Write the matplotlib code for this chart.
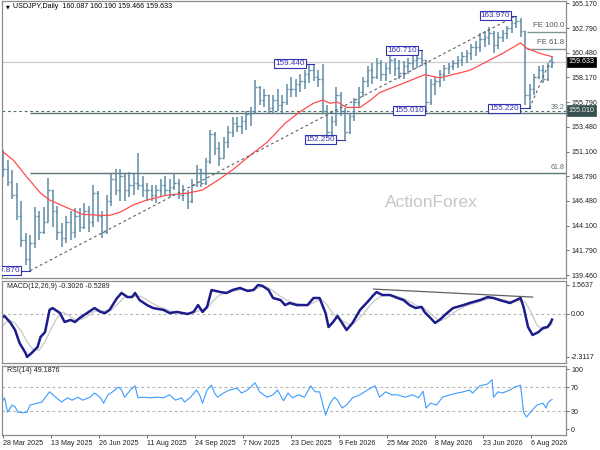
import matplotlib
matplotlib.use('Agg')
import matplotlib.pyplot as plt
import matplotlib.transforms as mtransforms
import numpy as np

plt.rcParams['font.family'] = ['Liberation Sans', 'DejaVu Sans']

# ---------------- data (3-day OHLC bars) ----------------
first_open = 150.8
closes = [
    149.5, 148.3, 147.0, 145.0, 142.8, 141.0, 142.5, 145.0, 143.5, 144.5,
    147.5, 145.5, 143.5, 143.0, 144.5, 143.5, 145.0, 144.0, 145.5, 144.5,
    147.2, 145.0, 143.5, 146.5, 148.5, 147.5, 148.8, 147.5, 148.0, 148.2,
    148.0, 147.5, 147.5, 147.0, 147.5, 148.0, 147.5, 147.8, 148.2, 147.0,
    147.2, 146.5, 148.0, 149.5, 148.2, 150.2, 152.8, 151.5, 150.5, 152.0,
    153.0, 153.8, 153.5, 154.0, 154.7, 155.0, 157.2, 156.0, 156.5, 155.2,
    156.0, 155.5, 155.8, 157.0, 157.0, 157.5, 157.8, 158.5, 158.8, 158.2,
    158.0, 155.0, 153.0, 154.0, 156.5, 155.0, 153.0, 154.5, 155.8, 156.8,
    157.8, 158.8, 158.2, 159.5, 158.5, 159.0, 159.8, 159.0, 158.6, 159.2,
    159.5, 159.8, 160.0, 159.8, 155.8, 157.5, 157.8, 158.5, 159.0, 159.2,
    159.5, 159.8, 160.2, 160.4, 161.0, 161.0, 161.8, 162.0, 162.3, 161.2,
    162.0, 162.3, 162.8, 163.3, 163.5, 162.5, 156.5, 157.0, 158.2, 158.8,
    158.0, 159.2, 159.633]
highs = [
    151.3, 150.3, 149.4, 148.2, 146.5, 143.4, 143.2, 145.9, 145.5, 145.9,
    148.6, 147.5, 146.0, 144.4, 145.0, 145.5, 145.8, 145.8, 146.3, 146.0,
    148.0, 147.4, 145.5, 147.0, 149.0, 149.5, 149.5, 149.0, 149.2, 149.0,
    151.0, 148.8, 148.2, 148.0, 148.0, 148.5, 148.8, 148.5, 149.1, 148.5,
    148.0, 147.5, 148.5, 149.9, 149.5, 150.5, 153.2, 153.0, 152.0, 152.5,
    153.5, 154.4, 154.4, 154.5, 155.0, 155.3, 157.9, 157.3, 157.0, 156.5,
    156.5, 157.0, 156.5, 157.5, 158.2, 158.0, 158.5, 158.8, 159.3, 159.44,
    158.8, 159.4, 155.5, 154.5, 157.2, 156.8, 155.2, 154.8, 156.2, 157.2,
    158.2, 159.2, 159.5, 160.0, 159.8, 159.5, 160.3, 160.0, 159.8, 159.7,
    160.0, 160.2, 160.4, 160.71, 159.8, 158.0, 158.2, 158.8, 159.3, 159.5,
    159.8, 160.2, 160.5, 160.7, 161.3, 161.6, 162.3, 162.5, 162.9, 162.5,
    162.4, 162.6, 163.0, 163.6, 163.97, 163.8, 162.5, 157.5, 158.5, 159.2,
    159.3, 159.5, 160.19]
lows = [
    148.7, 147.9, 146.6, 144.7, 142.1, 140.4, 139.87, 142.0, 142.8, 143.3,
    144.5, 144.0, 142.8, 142.1, 142.5, 142.8, 143.0, 143.5, 143.8, 143.5,
    144.0, 144.5, 143.0, 143.3, 146.0, 147.0, 146.5, 146.5, 146.8, 147.0,
    147.5, 146.8, 146.5, 146.5, 146.3, 146.8, 147.0, 146.8, 147.5, 146.6,
    146.5, 145.7, 146.3, 147.8, 147.8, 148.0, 150.0, 150.8, 149.8, 150.5,
    151.5, 152.5, 153.0, 152.8, 153.2, 153.5, 154.8, 155.5, 155.3, 154.8,
    154.8, 155.0, 154.8, 155.5, 156.3, 156.3, 156.8, 157.0, 157.6, 157.8,
    157.2, 154.8, 152.5, 152.4, 153.5, 154.5, 152.25, 152.8, 154.0, 155.3,
    156.3, 157.2, 157.5, 158.0, 157.8, 157.8, 158.5, 158.3, 158.0, 158.0,
    158.5, 158.8, 159.0, 159.2, 155.01, 155.5, 156.5, 157.2, 157.8, 158.5,
    158.8, 159.0, 159.2, 159.5, 159.8, 160.2, 160.5, 161.0, 161.2, 160.4,
    160.8, 161.5, 161.8, 162.3, 162.8, 162.0, 155.5, 155.22, 156.5, 158.0,
    157.6, 157.8, 159.0]
BAR_DAYS = 3  # each bar spans three trading days

# moving average (red line), (trading-day, price)
ma_day = [0, 7, 16, 25, 31, 43, 53, 65, 71, 78, 87, 96, 109, 123, 133, 143, 153, 165,
          176, 188, 198, 207, 213, 218, 223, 229, 238, 245, 251, 260, 269, 281, 291,
          311, 333, 345, 349, 358, 366]
ma_val = [151.1, 150.3, 148.7, 147.2, 146.55, 145.8, 145.2, 145.1, 145.1, 145.4, 146.1,
          146.55, 147.0, 147.2, 147.5, 148.4, 149.4, 150.8, 152.0, 153.8, 154.9, 155.7,
          156.0, 155.7, 155.8, 155.3, 155.3, 156.0, 156.7, 157.2, 157.7, 158.4, 158.1,
          158.8, 160.4, 161.4, 160.9, 160.4, 160.1]

# MACD main line
macd_day = [0, 1, 5, 8, 11, 15, 16, 19, 23, 25, 28, 31, 33, 38, 41, 45, 48, 51, 56, 61,
            65, 68, 71, 76, 79, 83, 86, 88, 91, 96, 100, 107, 111, 116, 123, 127, 130, 133,
            136, 139, 145, 149, 153, 158, 163, 167, 170, 173, 177, 180, 185, 188, 191, 196,
            203, 207, 211, 215, 217, 220, 223, 226, 229, 233, 238, 243, 247, 249, 253, 258,
            263, 267, 271, 275, 279, 281, 285, 288, 291, 296, 300, 307, 311, 318, 323, 327,
            331, 338, 345, 347, 350, 353, 357, 360, 363, 365, 366]
macd_val = [-0.16, -0.11, -0.48, -0.86, -1.56, -2.10, -2.31, -2.10, -1.78, -1.24,
            -0.97, 0.22, 0.32, 0.05, -0.43, -0.32, -0.43, -0.22, 0.05, 0.32,
            0.11, 0.05, 0.22, 0.86, 1.13, 0.91, 0.91, 1.13, 0.75, 0.48,
            0.32, 0.22, 0.05, 0.11, 0.0, 0.11, 0.48, 0.11, 0.38, 1.29,
            1.18, 1.13, 1.29, 1.40, 1.24, 1.29, 1.56, 1.51, 1.29, 0.86,
            0.75, 0.48, 0.59, 0.48, 0.48, 0.86, 0.86, 0.05, -0.70, -0.43,
            -0.11, -0.48, -0.86, -0.48, 0.22, 0.65, 1.02, 1.18, 1.02, 1.02,
            0.86, 0.75, 0.48, 0.32, 0.38, 0.11, -0.22, -0.48, -0.32, 0.05,
            0.32, 0.48, 0.59, 0.75, 0.91, 0.86, 0.75, 0.59, 0.86, 0.38,
            -0.70, -1.13, -0.97, -0.75, -0.70, -0.48, -0.30]
# MACD signal line
sig_day = list(range(0, 361, 4)) + [363, 366]
sig_val = [-0.6, -0.3, -0.5, -0.9, -1.5, -1.9, -1.95, -1.5, -0.8, -0.2,
           0.1, -0.1, -0.3, -0.3, -0.15, 0.1, 0.2, 0.15, 0.2, 0.5,
           0.85, 0.95, 0.95, 0.95, 0.75, 0.55, 0.4, 0.28, 0.15, 0.1,
           0.05, 0.03, 0.1, 0.25, 0.3, 0.7, 1.0, 1.12, 1.18, 1.28,
           1.32, 1.3, 1.35, 1.45, 1.45, 1.25, 1.0, 0.8, 0.65, 0.55,
           0.5, 0.5, 0.65, 0.78, 0.5, 0.0, -0.25, -0.45, -0.6, -0.35,
           0.0, 0.4, 0.75, 0.95, 1.05, 1.0, 0.92, 0.8, 0.62, 0.45,
           0.35, 0.1, -0.2, -0.35, -0.2, 0.05, 0.25, 0.42, 0.52, 0.62,
           0.72, 0.82, 0.85, 0.8, 0.7, 0.68, 0.72, 0.65, 0.1, -0.6,
           -0.85, -0.75, -0.53]

# RSI(14)
rsi_day = [0, 1, 3, 6, 8, 10, 13, 16, 18, 23, 26, 28, 31, 35, 39, 43, 46, 50, 53, 58,
           61, 65, 67, 70, 73, 77, 79, 81, 85, 88, 90, 93, 98, 103, 107, 111, 115, 119,
           121, 125, 129, 131, 133, 136, 139, 141, 143, 147, 151, 156, 159, 163, 168,
           171, 176, 180, 183, 187, 190, 193, 197, 201, 205, 208, 211, 213, 215, 218,
           221, 223, 226, 229, 233, 238, 241, 245, 248, 251, 255, 259, 263, 268, 273,
           277, 280, 282, 285, 289, 293, 298, 303, 307, 311, 313, 318, 323, 326, 327,
           330, 333, 338, 341, 345, 347, 349, 353, 356, 360, 362, 363, 365, 366]
rsi_val = [48, 52, 28, 40, 37, 28, 27, 28, 40, 43, 45, 52, 62, 53, 45, 52, 48, 53, 48, 53,
           60, 52, 43, 57, 62, 70, 65, 53, 65, 72, 52, 53, 52, 53, 52, 57, 48, 52, 45, 53,
           65, 57, 43, 65, 73, 60, 53, 60, 65, 68, 60, 65, 77, 62, 53, 57, 65, 47, 60, 52,
           57, 53, 72, 62, 62, 43, 23, 43, 53, 48, 35, 40, 52, 57, 62, 68, 72, 53, 62, 57,
           57, 53, 57, 52, 63, 35, 43, 40, 53, 57, 60, 62, 65, 60, 72, 75, 82, 53, 62, 60,
           65, 70, 73, 28, 20, 32, 40, 43, 35, 43, 48, 49]

price_ticks = [165.170, 162.790, 160.480, 158.170, 155.790, 153.480, 151.100,
               148.790, 146.480, 144.100, 141.790, 139.460]
macd_ticks = [1.5637, 0.0, -2.3117]
macd_tick_labels = ['1.5637', '0.00', '-2.3117']
rsi_ticks = [100, 70, 30, 0]
date_days = [0, 32, 64, 96, 128, 160, 192, 224, 256, 288, 320, 352]
date_labels = ['28 Mar 2025', '13 May 2025', '26 Jun 2025', '11 Aug 2025', '24 Sep 2025',
               '7 Nov 2025', '23 Dec 2025', '9 Feb 2026', '25 Mar 2026', '8 May 2026',
               '23 Jun 2026', '6 Aug 2026']

# swing labels: (text, bar index, price)
swing_labels = [('163.970', 114, 163.97), ('160.710', 93, 160.71), ('159.440', 69, 159.44),
                ('155.010', 94, 155.01), ('155.220', 117, 155.22), ('152.250', 76, 152.25),
                ('139.870', 6, 139.87)]
swing_offsets = [4.0, 3.0, 6.0, 1.3, 7.0, 6.5, 6.5]

last_price = 159.633
support_level = 155.010
fib_levels = [(154.76, '38.2'), (149.08, '61.8')]
fe_levels = [(162.45, 'FE 100.0'), (160.82, 'FE 61.8')]
trend1 = [(18, 139.87), (342, 163.97)]
trend2 = [(351, 155.22), (365, 159.8)]
macd_div = [(247, 1.34), (353, 0.91)]

header = 'USDJPY,Daily  160.087 160.190 159.466 159.633'
macd_title = 'MACD(12,26,9) -0.3026 -0.5289'
rsi_title = 'RSI(14) 49.1876'

# ---------------- figure ----------------
W, H = 600.0, 450.0
fig = plt.figure(figsize=(6, 4.5), dpi=100)
fig.patch.set_facecolor('white')


def rect(l, t, r, b):
    return [l / W, 1 - b / H, (r - l) / W, (b - t) / H]


ax = fig.add_axes(rect(2, 1, 566, 278))
axm = fig.add_axes(rect(2, 281, 566, 363))
axr = fig.add_axes(rect(2, 366, 566, 435))
XMIN, XMAX = -0.7, 375.3
FS = 5.1


def style(a):
    a.set_xlim(XMIN, XMAX)
    for s in a.spines.values():
        s.set_color('#8c8c8c')
        s.set_linewidth(0.9)
    a.yaxis.tick_right()
    a.tick_params(axis='y', direction='out', length=2.5, width=0.6, colors='#555555',
                  labelcolor='#202020', labelsize=FS, pad=1.2)
    a.tick_params(axis='x', bottom=False, labelbottom=False)


for a in (ax, axm, axr):
    style(a)

# ---- main price panel ----
ax.set_ylim(139.18, 165.36)
ax.set_yticks(price_ticks)
ax.set_yticklabels(['%.3f' % v for v in price_ticks])

days = np.arange(len(closes)) * BAR_DAYS
opens = [first_open] + closes[:-1]
hi = np.maximum.reduce([np.array(highs), np.array(opens), np.array(closes)])
lo = np.minimum.reduce([np.array(lows), np.array(opens), np.array(closes)])
bar_color = '#5e8ba6'
ax.vlines(days, lo, hi, color=bar_color, lw=1.1, zorder=3)
ax.hlines(opens, days - 1.2, days, color=bar_color, lw=1.0, zorder=3)
ax.hlines(closes, days, days + 1.2, color=bar_color, lw=1.0, zorder=3)

ax.plot(ma_day, ma_val, color='#ff4d4d', lw=0.9, zorder=4)

# horizontal levels
ax.axhline(last_price, color='#cccccc', lw=0.9, zorder=1)
ax.axhline(support_level, color='#4f6f6f', lw=0.8, ls=(0, (2.5, 2.5)), zorder=2)
for lvl, name in fib_levels:
    ax.hlines(lvl, trend1[0][0], XMAX, color='#5a7878', lw=1.0, zorder=2)
    ax.text(0.997, lvl + 0.25, name, transform=mtransforms.blended_transform_factory(
        ax.transAxes, ax.transData), ha='right', va='bottom', fontsize=FS, color='#607070')
for lvl, name in fe_levels:
    ax.hlines(lvl, 349, XMAX, color='#7f9494', lw=1.0, zorder=2)
    ax.text(0.997, lvl + 0.3, name, transform=mtransforms.blended_transform_factory(
        ax.transAxes, ax.transData), ha='right', va='bottom', fontsize=5.6, color='#555555')

# trend lines
for tl in (trend1, trend2):
    ax.plot([tl[0][0], tl[1][0]], [tl[0][1], tl[1][1]], color='#606060', lw=0.8,
            ls=(0, (2.5, 2.5)), zorder=5)

# swing labels
blue = '#3434b0'
for (txt, bi, pr), off in zip(swing_labels, swing_offsets):
    bx = bi * BAR_DAYS
    ax.plot([bx - off, bx], [pr, pr], color=blue, lw=0.8, zorder=6)
    ax.text(bx - off, pr, txt, ha='right', va='center', fontsize=5.9, color=blue, zorder=7,
            clip_on=True,
            bbox=dict(boxstyle='square,pad=0.12', facecolor='white', edgecolor=blue, lw=0.8))

# right side price tags
bt = mtransforms.blended_transform_factory(ax.transAxes, ax.transData)
ax.text(1.004, last_price, '%.3f' % last_price, transform=bt, ha='left', va='center',
        fontsize=FS, color='white', clip_on=False, zorder=10,
        bbox=dict(boxstyle='square,pad=0.22', facecolor='black', edgecolor='black', lw=0.5))
ax.text(1.004, support_level, '%.3f' % support_level, transform=bt, ha='left', va='center',
        fontsize=FS, color='#f0f0f0', clip_on=False, zorder=10,
        bbox=dict(boxstyle='square,pad=0.22', facecolor='#36504f', edgecolor='#36504f', lw=0.5))

ax.text(0.761, 0.271, 'ActionForex', transform=ax.transAxes, ha='center', va='center',
        fontsize=12.5, color='#c6c6c6', zorder=0)

fig.text(7.5 / W, 1 - 7 / H, '\u25bc', fontsize=3.6, family='DejaVu Sans', ha='center',
         va='center', color='black')
fig.text(13 / W, 1 - 7 / H, header, fontsize=FS, ha='left', va='center', color='black')

# ---- MACD panel ----
axm.set_ylim(-2.636, 1.775)
axm.set_yticks(macd_ticks)
axm.set_yticklabels(macd_tick_labels)
axm.axhline(0, color='#b4b4b4', lw=0.8, ls=(0, (2.5, 2.5)))
axm.plot(sig_day, sig_val, color='#c8c8c8', lw=0.9)
axm.plot(macd_day, macd_val, color='#1c1c8c', lw=1.8, solid_joinstyle='round')
axm.plot([macd_div[0][0], macd_div[1][0]], [macd_div[0][1], macd_div[1][1]],
         color='#606060', lw=0.9)
axm.text(5 / 564, 1 - 5 / 82, macd_title, transform=axm.transAxes, ha='left', va='center',
         fontsize=FS, color='#202020')

# ---- RSI panel ----
axr.set_ylim(-10, 105)
axr.set_yticks(rsi_ticks)
axr.set_yticklabels([str(v) for v in rsi_ticks])
for lvl in (70, 30):
    axr.axhline(lvl, color='#b4b4b4', lw=0.8, ls=(0, (2.5, 2.5)))
axr.plot(rsi_day, rsi_val, color='#3d9cff', lw=0.8)
axr.text(5 / 564, 1 - 4 / 69, rsi_title, transform=axr.transAxes, ha='left', va='center',
         fontsize=FS, color='#202020')
axr.set_xticks(date_days)
axr.set_xticklabels(date_labels)
axr.tick_params(axis='x', bottom=True, labelbottom=True, direction='out', length=2,
                width=0.6, colors='#555555', labelcolor='#202020', labelsize=FS, pad=1.5)
for lab in axr.get_xticklabels():
    lab.set_ha('left')

fig.savefig('out.png', dpi=100, facecolor='white')
